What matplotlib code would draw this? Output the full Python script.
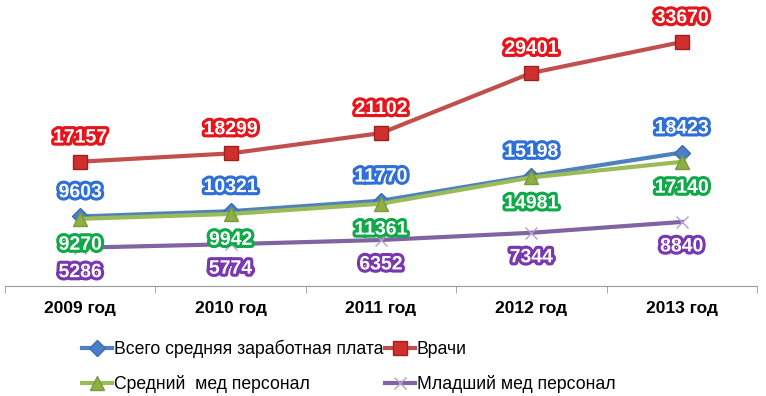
import matplotlib.pyplot as plt
import matplotlib.patheffects as pe
import numpy as np

years = ['2009 год', '2010 год', '2011 год', '2012 год', '2013 год']
total = [9603, 10321, 11770, 15198, 18423]
doctors = [17157, 18299, 21102, 29401, 33670]
middle = [9270, 9942, 11361, 14981, 17140]
junior = [5286, 5774, 6352, 7344, 8840]

plt.rcParams['font.family'] = ['Liberation Sans', 'DejaVu Sans']

fig = plt.figure(figsize=(7.66, 3.96), dpi=100)
ax = fig.add_axes([5 / 766, (396 - 286) / 396, 752 / 766, 286 / 396])
x = np.arange(len(years))

# линии
l_total, = ax.plot(x, total, color='#4F81BD', lw=3, marker='D', ms=8,
                   mfc='#4A7EC9', mec='#3A6CB0', zorder=3)
l_doc, = ax.plot(x, doctors, color='#C0504D', lw=3, marker='s', ms=10,
                 mfc='#D0302D', mec='#A02020', zorder=3)
l_mid, = ax.plot(x, middle, color='#9BBB59', lw=3, marker='^', ms=10,
                 mfc='#8DB040', mec='#7A9A40', zorder=4)
l_jun, = ax.plot(x, junior, color='#8064A2', lw=3, marker='x', ms=9,
                 mew=1, mec='#B0A0D0', zorder=3)


def labels(vals, color, dy):
    for i, v in enumerate(vals):
        ax.annotate(str(v), (i, v), xytext=(0, dy), textcoords='offset points',
                    ha='center', va='center', fontsize=14, fontweight='bold',
                    color='white', zorder=6,
                    path_effects=[pe.withStroke(linewidth=4.5, foreground=color)])


labels(total, '#2F6FD8', 17)
labels(doctors, '#E8141B', 17)
labels(middle, '#10A848', -19)
labels(junior, '#7A38B0', -18)

ax.set_xlim(-0.5, 4.5)
ax.set_ylim(0, 39470)
ax.set_yticks([])
ax.set_xticks(x)
ax.set_xticklabels(years, fontsize=12.5, fontweight='bold')
ax.set_xticks(np.arange(-0.5, 5, 1), minor=True)
ax.tick_params(axis='x', which='major', length=0, pad=11)
ax.tick_params(axis='x', which='minor', length=5, color='#999999')
for s in ['top', 'right', 'left']:
    ax.spines[s].set_visible(False)
ax.spines['bottom'].set_color('#999999')

fig.legend([l_total, l_mid, l_doc, l_jun],
           ['Всего средняя заработная плата', 'Средний  мед персонал',
            'Врачи', 'Младший мед персонал'],
           ncol=2, loc='upper left', bbox_to_anchor=(75 / 766, 1 - 333 / 396),
           frameon=False, fontsize=12.7, handlelength=1.7, handletextpad=0.1,
           columnspacing=0.1, labelspacing=0.95, borderaxespad=0)

fig.savefig('out.png', dpi=100)
